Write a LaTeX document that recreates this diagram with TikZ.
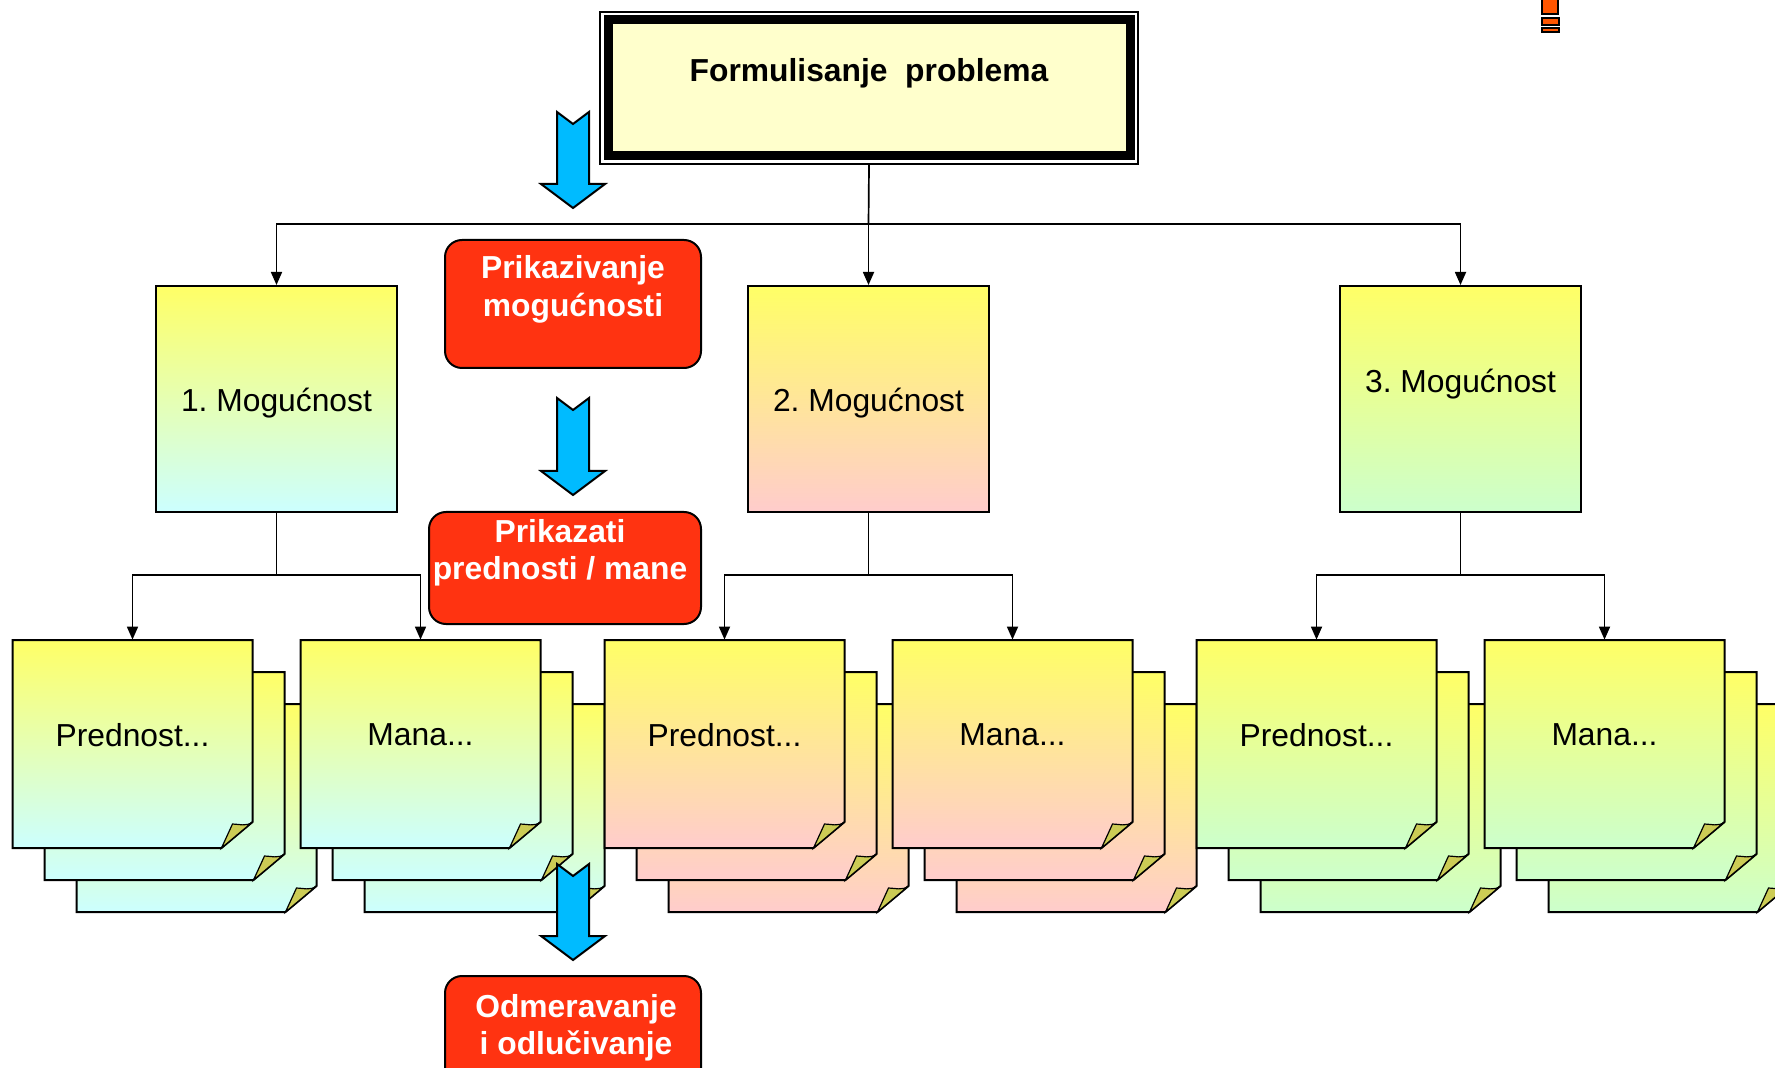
\documentclass[tikz,border=0pt]{standalone}
\usepackage{fontspec}
\setmainfont{Liberation Sans}
\usetikzlibrary{arrows.meta}
\frenchspacing

\definecolor{noteyellow}{RGB}{255,255,102}
\definecolor{notecyan}{RGB}{204,255,255}
\definecolor{notepink}{RGB}{255,204,204}
\definecolor{notegreen}{RGB}{204,255,204}
\definecolor{titlefill}{RGB}{255,255,204}
\definecolor{stepred}{RGB}{255,51,17}
\definecolor{flowblue}{RGB}{0,187,255}
\definecolor{foldolive}{RGB}{204,204,85}
\definecolor{markorange}{RGB}{255,85,0}

\newcommand\labelfont{\fontsize{15.9pt}{18.7pt}\selectfont}

% one sticky note with a curled lower right corner; #1 left, #2 top, #3 lower colour
\newcommand\stickynote[3]{%
  \shadedraw[top color=noteyellow, bottom color=#3, draw=black, line width=1pt]
    (#1,#2) -- ++(240,0) -- ++(0,182) -- ++(-31,26) -- ++(-209,0) -- cycle;
  \filldraw[fill=foldolive, draw=black, line width=0.6pt]
    (#1+209,#2+208) -- (#1+240,#2+182)
    .. controls (#1+234,#2+187) and (#1+226,#2+184) .. (#1+220,#2+184) -- cycle;
}
% a stack of three notes; #1 left, #2 top, #3 colour, #4 name, #5 text
\newcommand\notestack[5]{%
  \stickynote{#1+64}{#2+64}{#3}
  \stickynote{#1+32}{#2+32}{#3}
  \stickynote{#1}{#2}{#3}
  \node[notearea] (#4) at (#1+120,#2+104) {};
  \node[notetext] (#4t) at (#1+120,#2+95) {#5};
}
% broad downward arrow with a notched tail; #1 centre x, #2 top, #3 tip
\newcommand\blockarrow[3]{%
  \filldraw[fill=flowblue, draw=black, line width=1pt, line join=miter]
    (#1-16,#2) -- (#1,#2+12) -- (#1+16,#2) -- (#1+16,#3-24) -- (#1+32,#3-24)
    -- (#1,#3) -- (#1-32,#3-24) -- (#1-16,#3-24) -- cycle;
}

\tikzset{
  notearea/.style={inner sep=0pt, minimum width=120pt, minimum height=104pt},
  notetext/.style={inner sep=0pt, font=\labelfont},
  optbox/.style={draw=black, line width=1pt, minimum width=120.5pt, minimum height=113pt,
    inner sep=0pt, top color=noteyellow},
  redbox/.style={draw=black, line width=1pt, fill=stepred, rounded corners=8.5pt, inner sep=0pt},
  redtext/.style={text=white, font=\labelfont\bfseries, align=center, inner sep=0pt},
  conn/.style={draw=black, line width=0.85pt},
  tip/.style={-{Triangle[length=6.5pt, width=5.5pt]}},
}

\begin{document}
\begin{tikzpicture}[x=0.5pt, y=-0.5pt]
\useasboundingbox (0,0) rectangle (1775,1068);

% title frame
\draw[line width=0.7pt] (600,12) rectangle (1138,164);
\filldraw[fill=titlefill, draw=black, line width=4.5pt] (608,20) rectangle (1130,156);
\node[inner sep=0pt, minimum width=269pt, minimum height=76pt] (T) at (869,88) {};
\node[inner sep=0pt, font=\labelfont\bfseries] (Tt) at (869,73.5) {Formulisanje\ \ problema};

% exclamation mark in the corner
\filldraw[fill=markorange, draw=black, line width=0.6pt] (1542,-2) rectangle (1558,14);
\filldraw[fill=markorange, draw=black, line width=0.6pt] (1542,18) rectangle (1559,25);
\filldraw[fill=markorange, draw=black, line width=0.6pt] (1542,28) rectangle (1559,32);

% options
\node[optbox, bottom color=notecyan]  (o1) at (276.5,399) {};
\node[optbox, bottom color=notepink]  (o2) at (868.5,399) {};
\node[optbox, bottom color=notegreen] (o3) at (1460.5,399) {};
\node[notetext] (o1t) at (276.5,403) {1. Mogućnost};
\node[notetext] (o2t) at (868.5,403) {2. Mogućnost};
\node[notetext] (o3t) at (1460.5,384) {3. Mogućnost};

% title to options
\coordinate (hub) at (868.5,224);
\draw[conn] (T.south) -- (hub);
\draw[conn, tip] (hub) -| (o1.north);
\draw[conn, tip] (hub) -- (o2.north);
\draw[conn, tip] (hub) -| (o3.north);

% note stacks
\notestack{12.5}{640}{notecyan}{p1}{Prednost...}
\notestack{300.5}{640}{notecyan}{m1}{Mana...}
\notestack{604.5}{640}{notepink}{p2}{Prednost...}
\notestack{892.5}{640}{notepink}{m2}{Mana...}
\notestack{1196.5}{640}{notegreen}{p3}{Prednost...}
\notestack{1484.5}{640}{notegreen}{m3}{Mana...}

% options to notes
\coordinate (s1) at (276.5,575);
\coordinate (s2) at (868.5,575);
\coordinate (s3) at (1460.5,575);
\draw[conn] (o1.south) -- (s1);
\draw[conn] (o2.south) -- (s2);
\draw[conn] (o3.south) -- (s3);
\draw[conn, tip] (s1) -| (p1.north);
\draw[conn, tip] (s1) -| (m1.north);
\draw[conn, tip] (s2) -| (p2.north);
\draw[conn, tip] (s2) -| (m2.north);
\draw[conn, tip] (s3) -| (p3.north);
\draw[conn, tip] (s3) -| (m3.north);

% process steps
\node[redbox, minimum width=128pt, minimum height=64pt] (r1) at (573,304) {};
\node[redtext] (r1t) at (573,289.5) {Prikazivanje\\mogućnosti};
\node[redbox, minimum width=136pt, minimum height=56pt] (r2) at (565,568) {};
\node[redtext] (r2t) at (560,552.5) {Prikazati\\prednosti / mane};
\node[redbox, minimum width=128pt, minimum height=60pt] (r3) at (573,1036) {};
\node[redtext] (r3t) at (576,1027.5) {Odmeravanje\\i odlučivanje};

% flow arrows
\blockarrow{573}{112}{208}
\blockarrow{573}{398}{495}
\blockarrow{573}{864}{960}

\end{tikzpicture}
\end{document}
